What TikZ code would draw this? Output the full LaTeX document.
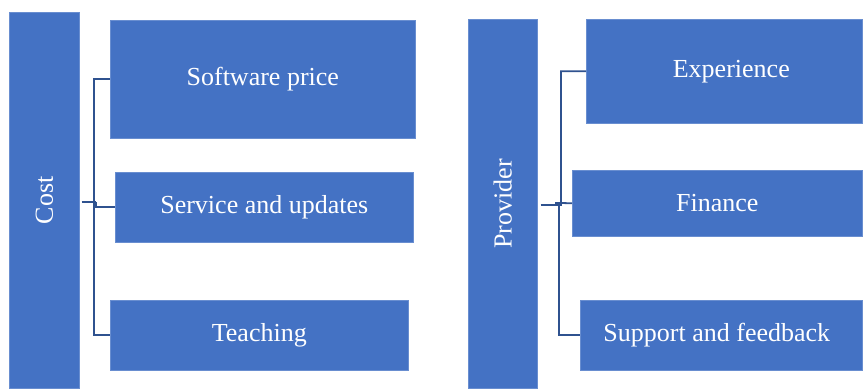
\documentclass[tikz,border=0pt]{standalone}
\usepackage{fontspec}
\setmainfont{Liberation Serif}
\definecolor{boxblue}{HTML}{4472C4}
\definecolor{lineblue}{HTML}{2F528F}
\begin{document}
\begin{tikzpicture}[x=1pt,y=-1pt,
  box/.style={fill=boxblue, draw=boxblue!80!white, line width=0.6pt, anchor=north west, inner sep=0pt, text=white, font=\fontsize{26}{30}\selectfont},
  conn/.style={draw=lineblue, line width=1.8pt},
  stub/.style={draw=lineblue, line width=2.8pt}]
\useasboundingbox (0,0) rectangle (864,388);
% left group
\node[box, minimum width=70pt, minimum height=376pt] (cost) at (9,12) {};
\node[rotate=90, text=white, font=\fontsize{26}{30}\selectfont] (costlbl) at (cost.center) {Cost};
\node[box, minimum width=305pt, minimum height=118pt] (sp) at (110,20) {Software price};
\node[box, minimum width=298pt, minimum height=70pt] (sv) at (115,172) {Service and updates};
\node[box, minimum width=298pt, minimum height=70pt] (tc) at (110,300) {Teaching};
\coordinate (lj) at (96,202);
\draw[conn] (sp.west) -- ++(-16,0) |- (tc.west);
\draw[stub] (cost.east |- lj) ++(2,0) -- (lj);
\draw[conn] (lj) |- (sv.west);
% right group
\node[box, minimum width=69pt, minimum height=369pt] (prov) at (468,19) {};
\node[rotate=90, text=white, font=\fontsize{26}{30}\selectfont] (provlbl) at (prov.center) {Provider};
\node[box, minimum width=276pt, minimum height=104pt] (ex) at (586,19) {\hspace*{14pt}Experience};
\node[box, minimum width=290pt, minimum height=66pt] (fi) at (572,170) {Finance};
\node[box, minimum width=282pt, minimum height=70pt] (su) at (580,300) {Support and feedback\hspace*{9pt}};
\coordinate (rj) at (562,205);
\coordinate (ra) at (561,203);
\coordinate (rb) at (559,203);
\coordinate (rc) at (555,203);
\draw[stub] (prov.east |- rj) ++(3,0) -- (rj);
\draw[conn] (ex.west) -| (ra) -- (fi.west);
\draw[conn] (rc) -- (rb) |- (su.west);
\end{tikzpicture}
\end{document}
